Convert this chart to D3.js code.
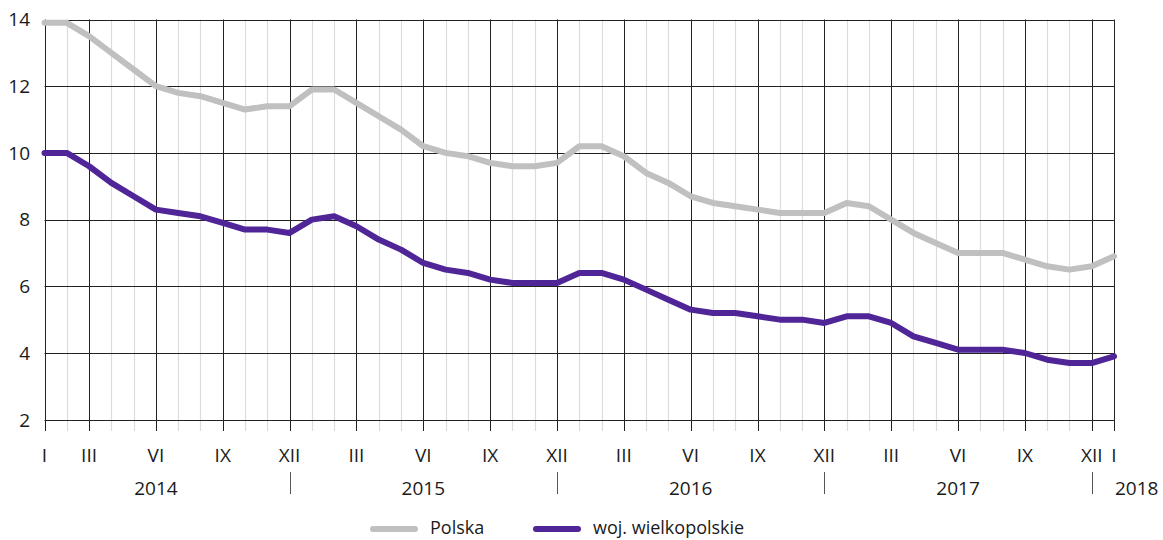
<!DOCTYPE html>
<html>
<head>
<meta charset="utf-8">
<script src="https://cdn.jsdelivr.net/npm/d3@7"></script>
<style>
  body { margin: 0; background: #fff; }
  text { font-family: "Open Sans", sans-serif; fill: #1a1a1a; }
</style>
</head>
<body>
<div id="chart"></div>
<script>
// data: monthly values, Jan 2014 .. Jan 2018
var years = ["2014", "2015", "2016", "2017", "2018"];
var romans = ["I", "II", "III", "IV", "V", "VI", "VII", "VIII", "IX", "X", "XI", "XII"];
var polska = [13.9, 13.9, 13.5, 13.0, 12.5, 12.0, 11.8, 11.7, 11.5, 11.3, 11.4, 11.4,
              11.9, 11.9, 11.5, 11.1, 10.7, 10.2, 10.0, 9.9, 9.7, 9.6, 9.6, 9.7,
              10.2, 10.2, 9.9, 9.4, 9.1, 8.7, 8.5, 8.4, 8.3, 8.2, 8.2, 8.2,
              8.5, 8.4, 8.0, 7.6, 7.3, 7.0, 7.0, 7.0, 6.8, 6.6, 6.5, 6.6,
              6.9];
var wielkopolskie = [10.0, 10.0, 9.6, 9.1, 8.7, 8.3, 8.2, 8.1, 7.9, 7.7, 7.7, 7.6,
                     8.0, 8.1, 7.8, 7.4, 7.1, 6.7, 6.5, 6.4, 6.2, 6.1, 6.1, 6.1,
                     6.4, 6.4, 6.2, 5.9, 5.6, 5.3, 5.2, 5.2, 5.1, 5.0, 5.0, 4.9,
                     5.1, 5.1, 4.9, 4.5, 4.3, 4.1, 4.1, 4.1, 4.0, 3.8, 3.7, 3.7,
                     3.9];
var yTicks = [2, 4, 6, 8, 10, 12, 14];
var seriesNames = ["Polska", "woj. wielkopolskie"];
var seriesColors = ["#c0c0c0", "#4f2597"];

var W = 1163, H = 540;
var plotLeft = 44.5, plotRight = 1114, plotTop = 19.5, plotBottom = 419.7;

var svg = d3.select("#chart").append("svg")
  .attr("width", W)
  .attr("height", H);

var n = polska.length;
var x = d3.scaleLinear().domain([0, n - 1]).range([plotLeft, plotRight]);
var y = d3.scaleLinear().domain([2, 14]).range([plotBottom, plotTop]);

function isMajor(i) {
  var m = i % 12;
  return i === 0 || i === n - 1 || m === 2 || m === 5 || m === 8 || m === 11;
}

// vertical grid (one per month), extending below axis as ticks
var months = d3.range(n);
svg.append("g")
  .selectAll("line")
  .data(months.filter(function(i) { return !isMajor(i); }))
  .enter().append("line")
    .attr("x1", function(i) { return Math.round(x(i)) + 0.5; })
    .attr("x2", function(i) { return Math.round(x(i)) + 0.5; })
    .attr("y1", plotTop)
    .attr("y2", 431)
    .attr("stroke", "#dcdcdc")
    .attr("stroke-width", 1.2);

// horizontal grid
svg.append("g")
  .selectAll("line")
  .data(yTicks)
  .enter().append("line")
    .attr("x1", plotLeft)
    .attr("x2", plotRight)
    .attr("y1", function(d) { return Math.round(y(d)) + 0.5; })
    .attr("y2", function(d) { return Math.round(y(d)) + 0.5; })
    .attr("stroke", "#222")
    .attr("stroke-width", 1);

svg.append("g")
  .selectAll("line")
  .data(months.filter(isMajor))
  .enter().append("line")
    .attr("x1", function(i) { return Math.round(x(i)) + 0.5; })
    .attr("x2", function(i) { return Math.round(x(i)) + 0.5; })
    .attr("y1", plotTop)
    .attr("y2", 431)
    .attr("stroke", "#222")
    .attr("stroke-width", 1);

// y labels
svg.append("g")
  .selectAll("text")
  .data(yTicks)
  .enter().append("text")
    .attr("x", 30)
    .attr("y", function(d) { return y(d); })
    .attr("dy", "0.36em")
    .attr("text-anchor", "end")
    .style("font-size", "19px")
    .text(function(d) { return d; });

// month labels
var labelled = months.filter(isMajor);
svg.append("g")
  .selectAll("text")
  .data(labelled)
  .enter().append("text")
    .attr("x", function(i) { return x(i); })
    .attr("y", 462)
    .attr("text-anchor", "middle")
    .style("font-size", "19px")
    .text(function(i) { return romans[i % 12]; });

// year labels
svg.append("g")
  .selectAll("text")
  .data(years)
  .enter().append("text")
    .attr("x", function(d, k) { return k < years.length - 1 ? x(k * 12 + 5) : x(k * 12) + 1; })
    .attr("y", 495)
    .attr("text-anchor", function(d, k) { return k < years.length - 1 ? "middle" : "start"; })
    .style("font-size", "19px")
    .text(function(d) { return d; });

// year separators
svg.append("g")
  .selectAll("line")
  .data(d3.range(years.length - 1))
  .enter().append("line")
    .attr("x1", function(k) { return Math.round(x(k * 12 + 11)) + 0.5; })
    .attr("x2", function(k) { return Math.round(x(k * 12 + 11)) + 0.5; })
    .attr("y1", 472)
    .attr("y2", 494)
    .attr("stroke", "#555")
    .attr("stroke-width", 1);

// lines
var line = d3.line()
  .x(function(d, i) { return x(i); })
  .y(function(d) { return y(d); });

[polska, wielkopolskie].forEach(function(s, k) {
  svg.append("path")
    .datum(s)
    .attr("fill", "none")
    .attr("stroke", seriesColors[k])
    .attr("stroke-width", 6)
    .attr("stroke-linejoin", "round")
    .attr("stroke-linecap", "round")
    .attr("d", line);
});

// legend
var legendX = [373, 536];
var legend = svg.append("g");
seriesNames.forEach(function(name, k) {
  legend.append("line")
    .attr("x1", legendX[k])
    .attr("x2", legendX[k] + 42)
    .attr("y1", 529)
    .attr("y2", 529)
    .attr("stroke", seriesColors[k])
    .attr("stroke-width", 6)
    .attr("stroke-linecap", "round");
  legend.append("text")
    .attr("x", legendX[k] + 57)
    .attr("y", 529)
    .attr("dy", "0.3em")
    .style("font-size", "18px")
    .text(name);
});
</script>
</body>
</html>
